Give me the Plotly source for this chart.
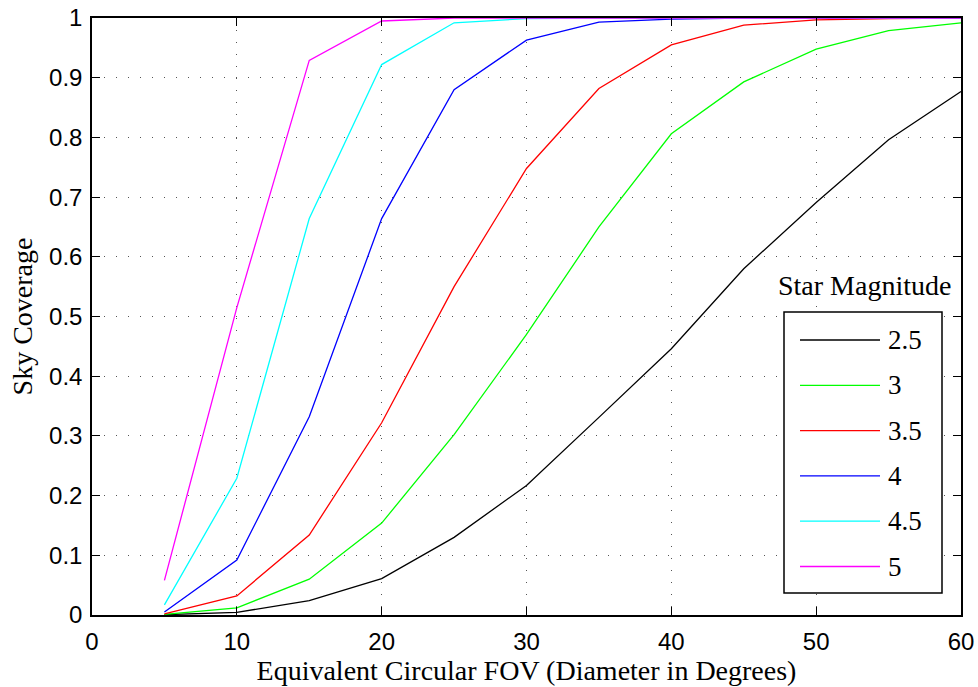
import plotly.graph_objects as go

# Field-of-view diameters (degrees)
fov_deg = [5, 10, 15, 20, 25, 30, 35, 40, 45, 50, 55, 60]

# Sky coverage fraction for each limiting star magnitude
mag_labels = ["2.5", "3", "3.5", "4", "4.5", "5"]
cov_2_5 = [0.0005, 0.0045, 0.024, 0.061, 0.130, 0.217, 0.331, 0.446, 0.580, 0.691, 0.796, 0.877]
cov_3_0 = [0.001, 0.012, 0.060, 0.154, 0.302, 0.470, 0.650, 0.806, 0.893, 0.948, 0.979, 0.992]
cov_3_5 = [0.002, 0.032, 0.134, 0.322, 0.550, 0.748, 0.882, 0.955, 0.988, 0.997, 0.999, 1.0]
cov_4_0 = [0.005, 0.092, 0.332, 0.664, 0.880, 0.963, 0.993, 0.998, 1.0, 1.0, 1.0, 1.0]
cov_4_5 = [0.017, 0.229, 0.664, 0.922, 0.992, 0.999, 1.0, 1.0, 1.0, 1.0, 1.0, 1.0]
cov_5_0 = [0.058, 0.515, 0.929, 0.995, 1.0, 1.0, 1.0, 1.0, 1.0, 1.0, 1.0, 1.0]

x_ticks = [0, 10, 20, 30, 40, 50, 60]
y_ticks = [0, 0.1, 0.2, 0.3, 0.4, 0.5, 0.6, 0.7, 0.8, 0.9, 1]
y_tick_text = ["0", "0.1", "0.2", "0.3", "0.4", "0.5", "0.6", "0.7", "0.8", "0.9", "1"]

series = [cov_2_5, cov_3_0, cov_3_5, cov_4_0, cov_4_5, cov_5_0]
colors = ["#000000", "#00ff00", "#ff0000", "#0000ff", "#00ffff", "#ff00ff"]

W, H = 978, 687
ML, MR, MT, MB = 92, 17, 18, 72
PW, PH = W - ML - MR, H - MT - MB

SERIF = "Liberation Serif"
SANS = "Liberation Sans"


def px_x(px):
    return (px - ML) / PW


def px_y(py):
    return (H - MB - py) / PH


fig = go.Figure()
for name, ys, col in zip(mag_labels, series, colors):
    fig.add_trace(go.Scatter(
        x=fov_deg, y=ys, mode="lines", name=name,
        line=dict(color=col, width=1.3), showlegend=False,
    ))

# Hand-built legend box with long line samples
shapes = [dict(type="rect", xref="paper", yref="paper",
               x0=px_x(784), x1=px_x(942), y0=px_y(593), y1=px_y(312),
               line=dict(color="black", width=1.5), fillcolor="white", layer="above")]
annotations = []
row0, step = 340, 45.3
for i, (name, col) in enumerate(zip(mag_labels, colors)):
    yy = px_y(row0 + i * step)
    shapes.append(dict(type="line", xref="paper", yref="paper",
                       x0=px_x(800), x1=px_x(880), y0=yy, y1=yy,
                       line=dict(color=col, width=1.3), layer="above"))
    annotations.append(dict(xref="paper", yref="paper", x=px_x(886), y=yy,
                            text=name, showarrow=False, xanchor="left", yanchor="middle",
                            font=dict(family=SERIF, size=27, color="black")))
annotations.append(dict(xref="paper", yref="paper", x=px_x(953), y=px_y(285),
                        text="Star Magnitude", showarrow=False, xanchor="right",
                        yanchor="middle", font=dict(family=SERIF, size=28, color="black")))

axis_common = dict(
    showline=True, linecolor="black", linewidth=1.5, mirror="ticks",
    ticks="inside", ticklen=8, tickwidth=1, tickcolor="black",
    showgrid=True, gridcolor="#555555", gridwidth=1, griddash="1px,11px",
    zeroline=False, tickfont=dict(family=SANS, size=24, color="black"),
    automargin=False,
)

fig.update_layout(
    width=W, height=H, autosize=False,
    margin=dict(l=ML, r=MR, t=MT, b=MB, autoexpand=False),
    paper_bgcolor="white", plot_bgcolor="white",
    xaxis=dict(range=[0, 60], tickvals=x_ticks, ticklabelstandoff=4,
               title=dict(text="Equivalent Circular FOV (Diameter in Degrees)",
                          font=dict(family=SERIF, size=28, color="black"), standoff=1),
               **axis_common),
    yaxis=dict(range=[0, 1], tickvals=y_ticks, ticktext=y_tick_text, ticklabelstandoff=3,
               title=dict(text="Sky Coverage",
                          font=dict(family=SERIF, size=28, color="black"), standoff=8),
               **axis_common),
    shapes=shapes, annotations=annotations,
)

fig.write_html("out.html")
